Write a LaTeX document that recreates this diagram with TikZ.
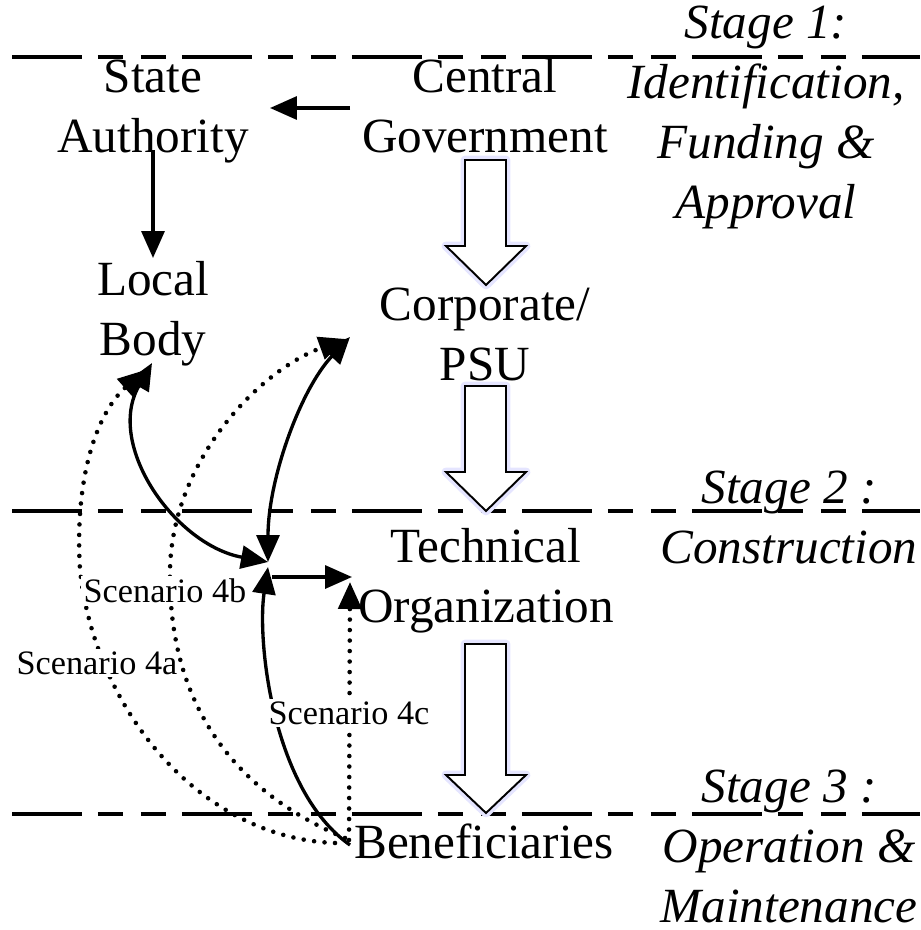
\documentclass[tikz,border=0pt]{standalone}
\usepackage{fontspec}
\setmainfont{Liberation Serif}
\usetikzlibrary{arrows.meta}
\begin{document}
\begin{tikzpicture}[x=0.02cm,y=-0.02cm,
  actor/.style={font=\fontsize{28}{34}\selectfont, align=center, inner sep=0pt, anchor=base},
  stagetxt/.style={font=\fontsize{28}{34}\selectfont\itshape, align=center, inner sep=0pt, anchor=base},
  scen/.style={font=\fontsize{19.5}{22}\selectfont, fill=white, inner sep=1.5pt},
  stageline/.style={line width=2.2pt, dash pattern=on 1.4cm off 0.32cm on 0.5cm off 0.36cm on 0.5cm off 0.32cm},
  flow/.style={line width=1.9pt, -{Triangle[length=0.54cm,width=0.46cm]}},
  flowboth/.style={line width=1.9pt, {Triangle[length=0.54cm,width=0.46cm]}-{Triangle[length=0.54cm,width=0.46cm]}},
  dotflow/.style={line width=2.6pt, line cap=round, dash pattern=on 0pt off 0.21cm, -{Triangle[length=0.54cm,width=0.46cm]}},
  bigarrow/.style={draw=black, line width=1.1pt, fill=white, line join=miter},
  glow/.style={draw=blue!10, line width=5pt, line join=round}
]
\useasboundingbox (0,0) rectangle (920,930);

% stage separators
\draw[stageline] (12,57) -- (920,57);
\draw[stageline] (12,511) -- (920,511);
\draw[stageline] (12,814) -- (920,814);

% actors (anchored at the baseline of their last line)
\node[actor] (state)   at (153,152) {State\\Authority};
\node[actor] (central) at (485,152) {Central\\Government};
\node[actor] (local)   at (153,355) {Local\\Body};
\node[actor] (corp)    at (485,380) {Corporate/\\PSU};
\node[actor] (tech)    at (486,622) {Technical\\Organization};
\node[actor] (ben)     at (484,858) {Beneficiaries};

% stage captions
\node[stagetxt] (s1) at (766,218) {Stage 1:\\Identification,\\Funding \&\\Approval};
\node[stagetxt] (s2) at (789,563) {Stage 2 :\\Construction};
\node[stagetxt] (s3) at (789,922) {Stage 3 :\\Operation \&\\Maintenance};

% hollow block arrows of the main chain
\foreach \top/\neck/\tip in {160/246/285, 386/472/511, 644/775/813}{
  \draw[glow] (465,\top) -- (506,\top) -- (506,\neck) -- (526,\neck) -- (486,\tip) -- (446,\neck) -- (465,\neck) -- cycle;
  \draw[bigarrow] (465,\top) -- (506,\top) -- (506,\neck) -- (526,\neck) -- (486,\tip) -- (446,\neck) -- (465,\neck) -- cycle;
}

% anchor points for the connectors
\coordinate (cgW)  at (350,108);
\coordinate (saE)  at (270,108);
\coordinate (saS)  at (153,150);
\coordinate (lbN)  at (153,258);
\coordinate (lbS)  at (152,363);
\coordinate (cpW)  at (350,337);
\coordinate (hub)  at (268,562);
\coordinate (hubB) at (268,567);
\coordinate (hubR) at (272,577);
\coordinate (toW)  at (352,577);
\coordinate (bnW)  at (350,845);
\coordinate (bnA)  at (335,843);
\coordinate (bnB)  at (345,838);
\coordinate (bnC)  at (349,840);
\coordinate (lbD)  at (145,370);
\coordinate (cpD)  at (346,339);
\coordinate (toD)  at (350,582);

% solid flows
\draw[flow] (cgW) -- (saE);
\draw[flow] (saS) -- (lbN);
\draw[flowboth] (lbS) .. controls (105,445) and (175,545) .. (hub);
\draw[flowboth] (cpW) .. controls (300,390) and (268,480) .. (hub);
\draw[flow] (hubR) -- (toW);
\draw[flow] (bnW) .. controls (272,790) and (257,640) .. (hubB);
\draw[dotflow] (bnC) -- (toD);

% scenario 4a
\draw[dotflow] (bnA) .. controls (200,838) and (95,710) .. (80,570)
                     .. controls (74,470) and (100,410) .. (lbD);
\node[scen] (sc4a) at (97,663) {Scenario 4a};
\node[scen] (sc4c) at (349,713) {Scenario 4c};

% scenario 4b
\draw[dotflow] (bnB) .. controls (230,790) and (168,700) .. (170,570)
                     .. controls (172,460) and (260,370) .. (cpD);
\node[scen] (sc4b) at (165,591) {Scenario 4b};
\end{tikzpicture}
\end{document}
